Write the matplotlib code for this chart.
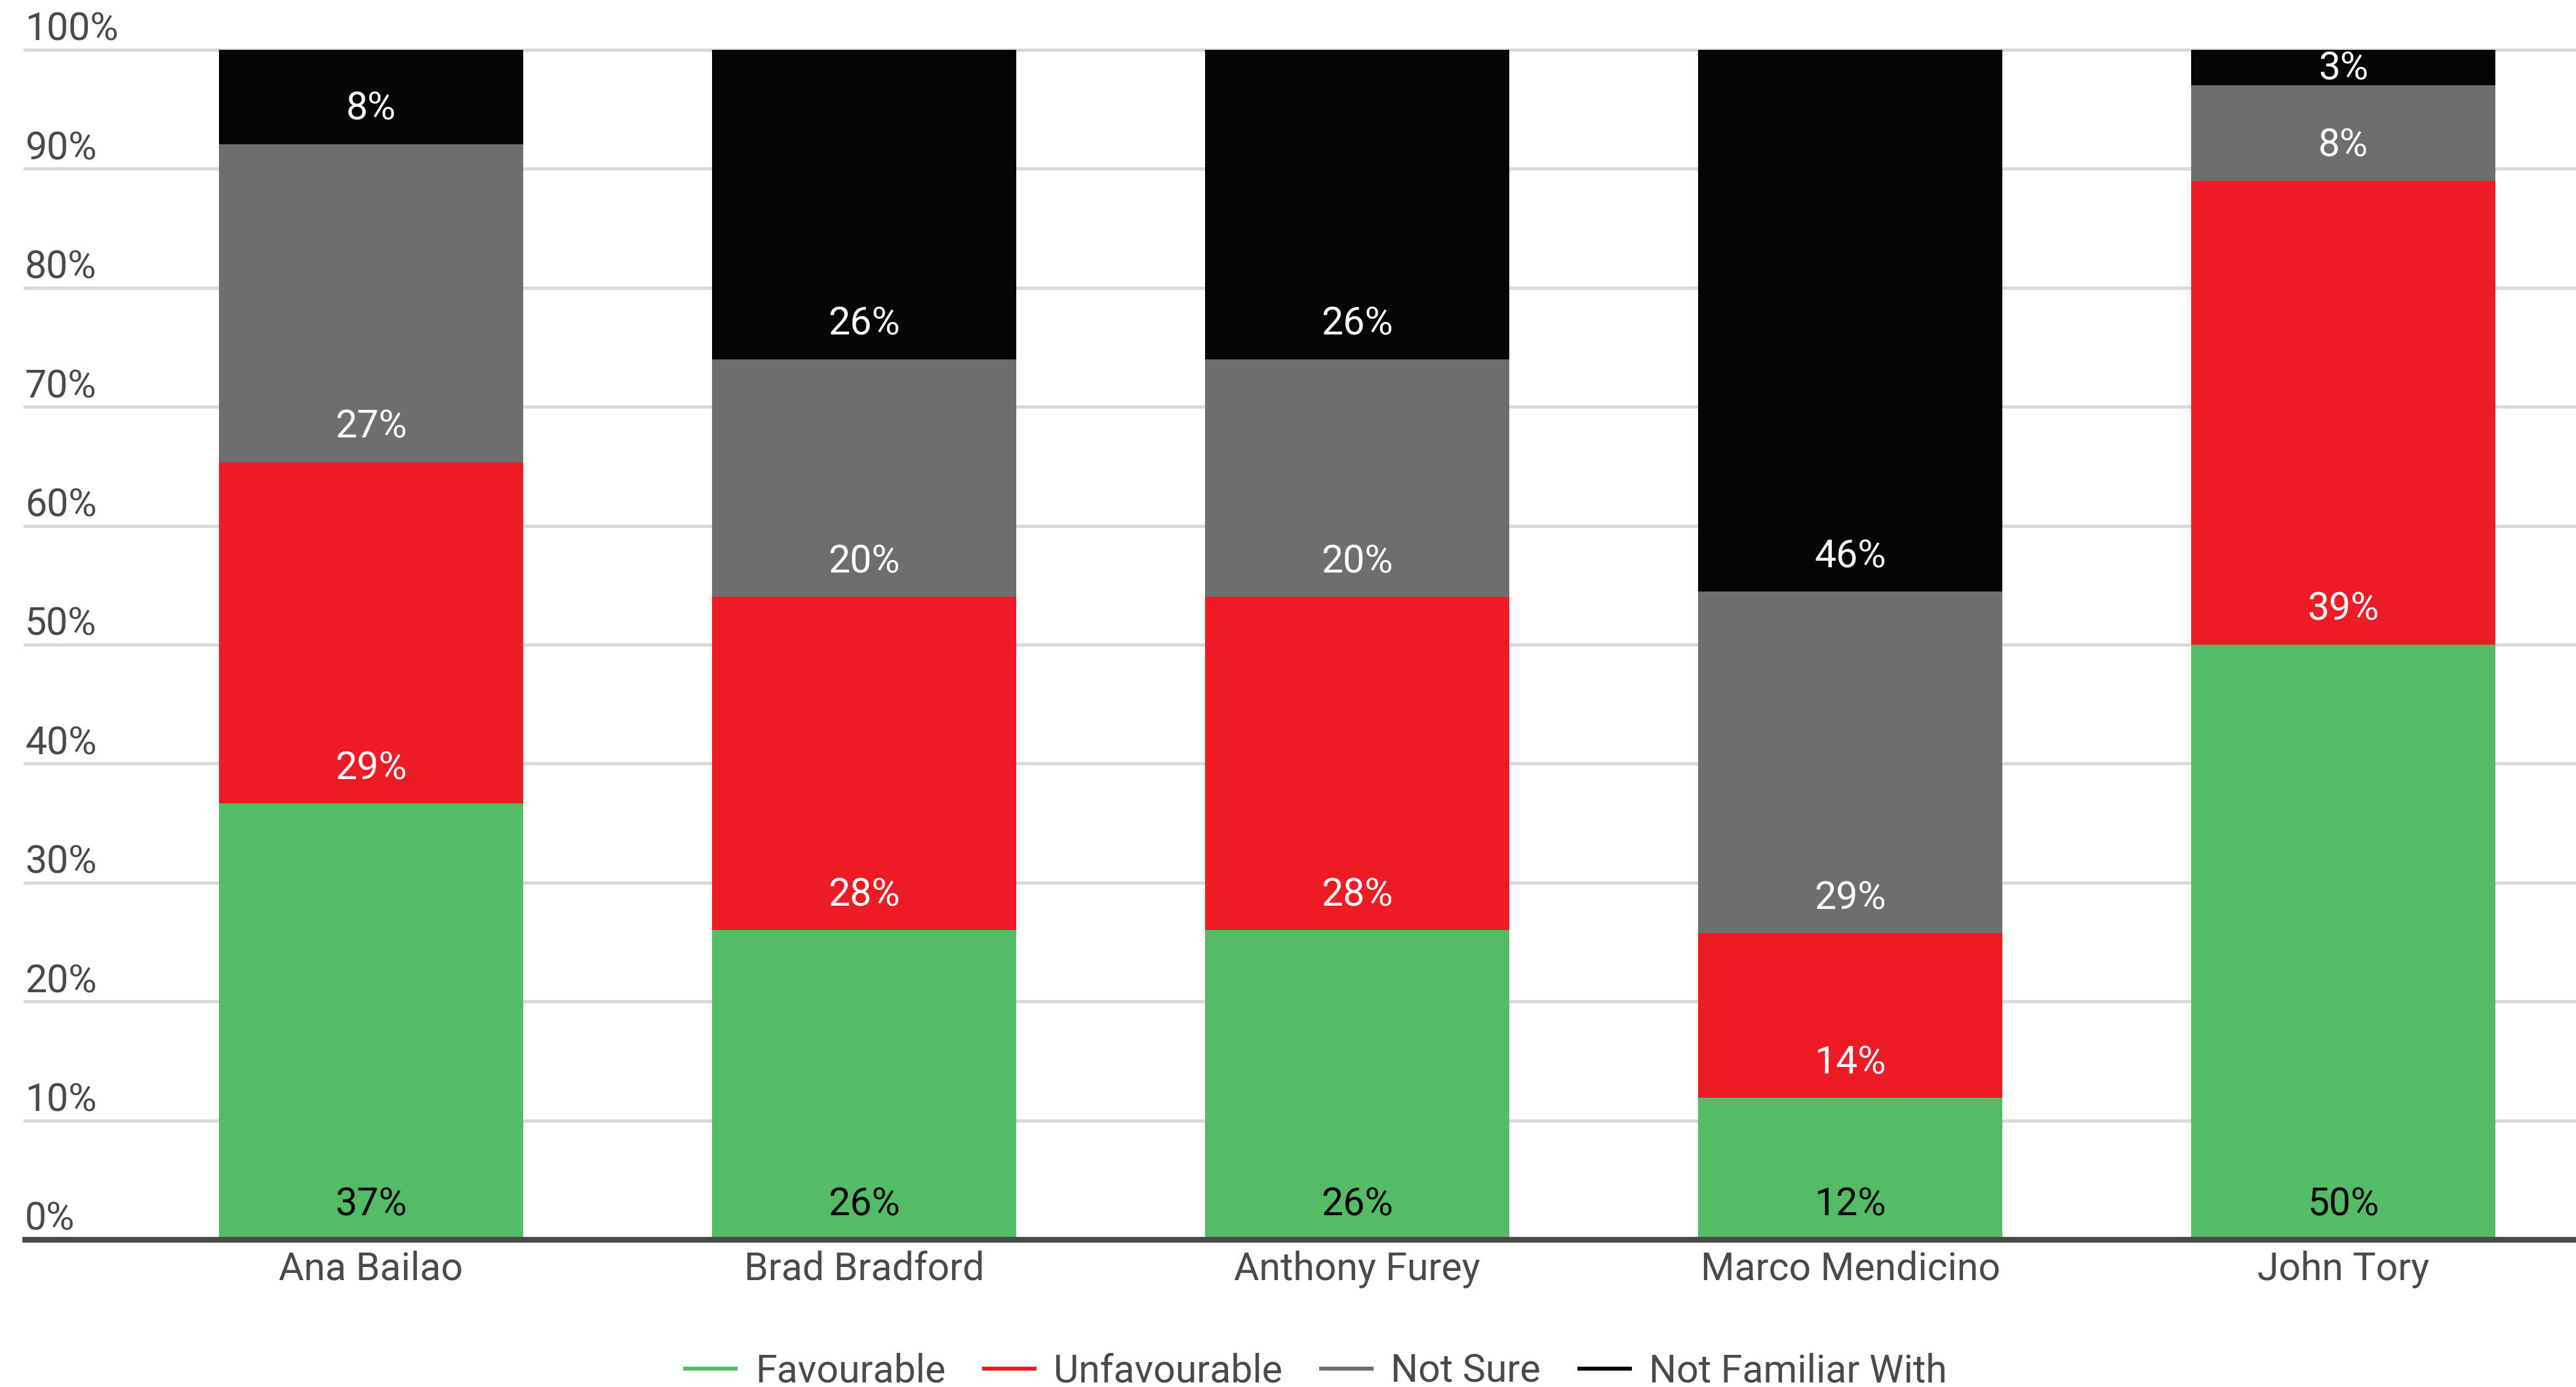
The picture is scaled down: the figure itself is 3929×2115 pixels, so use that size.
import matplotlib
matplotlib.use("Agg")
import matplotlib.pyplot as plt
from matplotlib.lines import Line2D
import numpy as np

categories = ["Ana Bailao", "Brad Bradford", "Anthony Furey", "Marco Mendicino", "John Tory"]
series_names = ["Favourable", "Unfavourable", "Not Sure", "Not Familiar With"]
favourable = [37, 26, 26, 12, 50]
unfavourable = [29, 28, 28, 14, 39]
not_sure = [27, 20, 20, 29, 8]
not_familiar = [8, 26, 26, 46, 3]
y_ticks = [0, 10, 20, 30, 40, 50, 60, 70, 80, 90, 100]

colors = ["#54bc66", "#ed1c24", "#6d6e6d", "#050505"]
label_colors = ["#000000", "#ffffff", "#ffffff", "#ffffff"]
text_color = "#4a4a4a"

plt.rcParams['font.family'] = ['Roboto', 'DejaVu Sans']
FS = 42.5

W, H = 3929, 2115
fig = plt.figure(figsize=(W / 100, H / 100), dpi=100)
ax_left = 38 / W
ax_bottom = (H - 1890) / H
ax_height = (1890 - 76) / H
ax = fig.add_axes([ax_left, ax_bottom, 1 - ax_left, ax_height])

series = [favourable, unfavourable, not_sure, not_familiar]
totals = np.sum(np.array(series, dtype=float), axis=0)
x = np.arange(len(categories))
ax.set_xlim(-0.702, 4.472)
ax.set_ylim(0, 100)

# gridlines
for t in y_ticks[1:]:
    ax.axhline(t, color="#d9d9d9", lw=3.6, zorder=1, clip_on=False)

bottoms = np.zeros(len(categories))
px_per_unit = (1890 - 76) / 100.0
for s_i, (vals, col, lc) in enumerate(zip(series, colors, label_colors)):
    pct = np.array(vals, dtype=float) / totals * 100
    ax.bar(x, pct, bottom=bottoms, width=0.617, color=col, zorder=2, linewidth=0)
    for i in range(len(categories)):
        b = bottoms[i]
        if (100 - b) * px_per_unit < 58 + 30:
            ax.annotate(f"{vals[i]}%", xy=(x[i], 100), xytext=(0, -46),
                        textcoords="offset pixels", ha="center", va="baseline",
                        color=lc, fontsize=FS, zorder=4)
        else:
            ax.annotate(f"{vals[i]}%", xy=(x[i], b), xytext=(0, 37),
                        textcoords="offset pixels", ha="center", va="baseline",
                        color=lc, fontsize=FS, zorder=4)
    bottoms = bottoms + pct

# baseline axis line
ax.axhline(0, xmin=0, xmax=1, color="#4a4a4a", lw=6.3, zorder=3, clip_on=False)

for sp in ax.spines.values():
    sp.set_visible(False)

ax.set_yticks([])
for t in y_ticks:
    ax.annotate(f"{t}%", xy=(0, t), xycoords=("axes fraction", "data"),
                xytext=(0, 14), textcoords="offset pixels", ha="left",
                va="baseline", color=text_color, fontsize=FS)

ax.set_xticks(x)
ax.set_xticklabels(categories, fontsize=FS, color=text_color, va="baseline")
ax.tick_params(axis="x", length=0, pad=62 * 0.72)

handles = [Line2D([0], [0], color=c, lw=4.3) for c in colors]
leg = fig.legend(handles, series_names, loc="center", bbox_to_anchor=(0.511, 0.0113),
                 ncol=4, frameon=False, fontsize=FS, handlelength=1.3,
                 handletextpad=0.5, columnspacing=1.0, borderpad=0)
for t in leg.get_texts():
    t.set_color(text_color)

fig.savefig("out.png", dpi=100, facecolor="white")
